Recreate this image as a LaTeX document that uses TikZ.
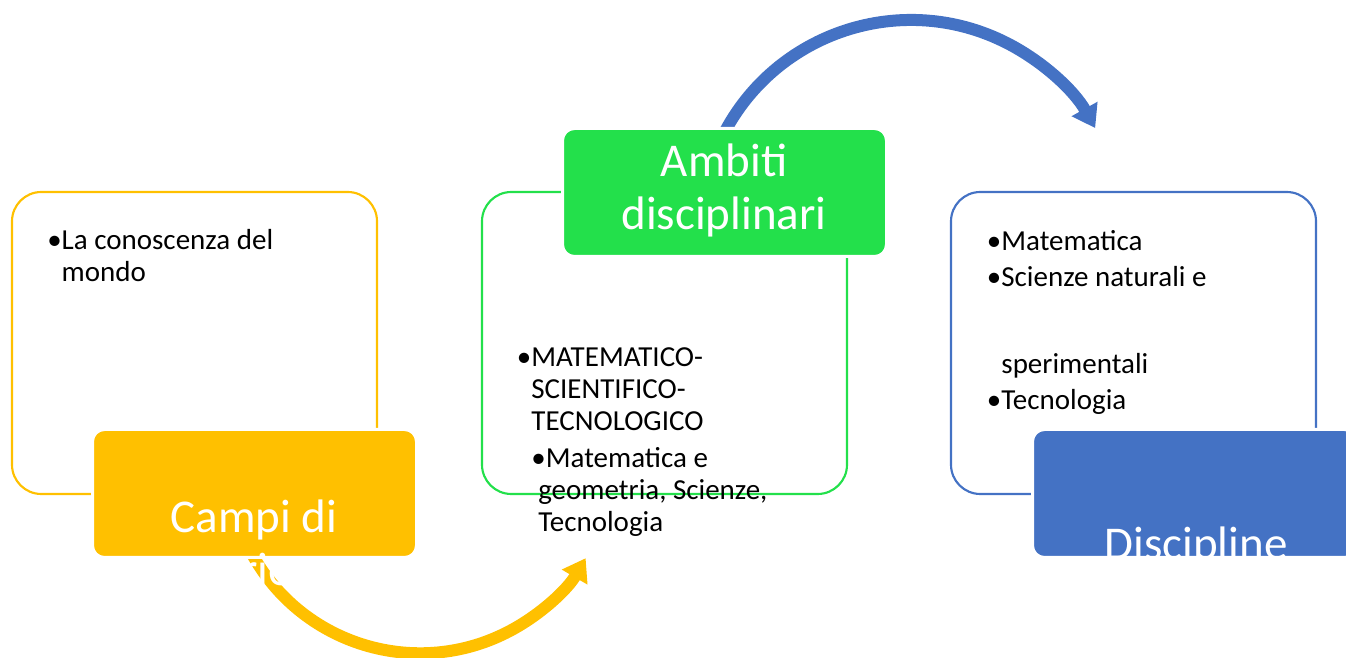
\documentclass[tikz,border=0pt]{standalone}
\usepackage{fontspec}
\setmainfont{Carlito}
\usetikzlibrary{positioning,arrows.meta}
\definecolor{giallo}{RGB}{255,192,0}
\definecolor{verde}{RGB}{35,224,75}
\definecolor{blu}{RGB}{68,114,196}
\begin{document}
\begin{tikzpicture}[x=0.75pt,y=0.75pt,node distance=352.5pt]
	\tikzstyle{rect1} = [rectangle,rounded corners=22pt,line width=1.6pt,minimum width=273.75pt,
	minimum height=226.5pt,inner sep=0pt]
	\tikzstyle{rect2} = [rectangle,rounded corners=9pt,draw=white,line width=2.25pt,
	minimum width=243pt,minimum height=96pt,inner sep=0pt]
	\tikzstyle{titolo} = [text=white,inner sep=0pt,align=center,anchor=base,
	font=\fontsize{35.25}{39.75}\selectfont]
	\tikzstyle{voci} = [inner sep=0pt,align=left,anchor=base west,
	font=\fontsize{21.75}{24}\selectfont]
	\tikzstyle{freccia} = [line width=9pt,-{Triangle[length=16.4pt,width=21.2pt]}]
	\useasboundingbox (0,0) rectangle (1346,657);
	% cornici
	\node (node1) [rect1, draw=giallo] at (194.5,314) {};
	\node (node2) [rect1, draw=verde, right of=node1] {};
	\node (node3) [rect1, draw=blu, right of=node2, node distance=351.75pt] {};
	% frecce
	\coordinate (a1) at (250.7,105.5);
	\coordinate (a2) at (723,521.8);
	\draw[freccia, giallo] (a1) arc[start angle=208, end angle=329.7, radius=143.85pt];
	\draw[freccia, blu] (a2) arc[start angle=153, end angle=29.2, radius=158.25pt];
	% intestazioni
	\node (node4) [rect2, fill=giallo] at ([shift={(60,-150.5)}]node1.center) {};
	\node (node5) [rect2, fill=verde] at ([shift={(60,150.5)}]node2.center) {};
	\node (node6) [rect2, fill=blu] at ([shift={(61,-150.5)}]node3.center) {};
	\node (t1) [titolo] at (254,71) {Campi di\\esperienza};
	\node (t2) [titolo] at (724,427) {Ambiti\\disciplinari};
	\node (t3) [titolo] at (1196,97) {Discipline};
	% testi
	\node (v1) [voci] at (47,375) {•La conoscenza del\\\hphantom{•}mondo};
	\node (v2) [voci] at (516.7,125) {•MATEMATICO-\\\hphantom{•}SCIENTIFICO-\\\hphantom{•}TECNOLOGICO\\[4pt]
	\hphantom{•}•Matematica e\\\hspace*{16pt}geometria, Scienze,\\\hspace*{16pt}Tecnologia};
	\node (v3) [voci, font=\fontsize{21.75}{27}\selectfont] at (986.7,247)
	{•Matematica\\•Scienze naturali e\\[38.8pt]\hphantom{•}sperimentali\\•Tecnologia};
\end{tikzpicture}
\end{document}
